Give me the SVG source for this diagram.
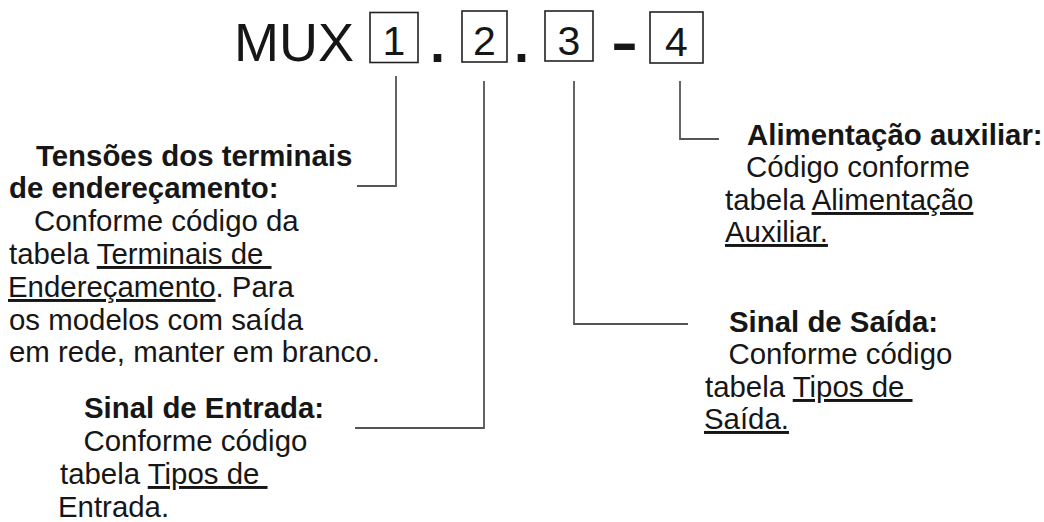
<svg xmlns="http://www.w3.org/2000/svg" width="1044" height="522" viewBox="0 0 1044 522">
<style>
text{font-family:"Liberation Sans",Arial,sans-serif;fill:#161616}
.t{font-size:29.4px}
.b{font-weight:bold}
.u{text-decoration:underline}
.box{fill:none;stroke:#222;stroke-width:1.6}
.con{fill:none;stroke:#555;stroke-width:1.8}
.big{font-size:54px}
.dig{font-size:41px;text-anchor:middle}
</style>
<rect width="1044" height="522" fill="#fff"/>
<g id="code">
<text class="big" x="234" y="61">MUX</text>
<rect class="box" x="370" y="12.5" width="48" height="50"/>
<text class="dig" x="394" y="55">1</text>
<text class="big b" x="430" y="62">.</text>
<rect class="box" x="462" y="11" width="45" height="51"/>
<text class="dig" x="484.5" y="55">2</text>
<text class="big b" x="514" y="62">.</text>
<rect class="box" x="545" y="11" width="48" height="50"/>
<text class="dig" x="569" y="55">3</text>
<text class="big b" x="611" y="61" textLength="27" lengthAdjust="spacingAndGlyphs">-</text>
<rect class="box" x="650" y="12" width="53" height="51"/>
<text class="dig" x="676.5" y="56">4</text>
</g>
<g id="connectors">
<polyline class="con" points="396,76 396,186 357,186"/>
<polyline class="con" points="484,81 484,428 355,428"/>
<polyline class="con" points="574,81 574,324 688,324"/>
<polyline class="con" points="680,81 680,139 719,139"/>
</g>
<g id="n1">
<text class="t b" x="36" y="166">Tensões dos terminais</text>
<text class="t b" x="9" y="198">de endereçamento:</text>
<text class="t" x="34" y="231">Conforme código da</text>
<text class="t" x="9" y="264">tabela <tspan class="u">Terminais de&#160;</tspan></text>
<text class="t" x="8" y="297"><tspan class="u">Endereçamento</tspan>. Para</text>
<text class="t" x="9" y="330">os modelos com saída</text>
<text class="t" x="9" y="362">em rede, manter em branco.</text>
</g>
<g id="n2">
<text class="t b" x="84" y="418">Sinal de Entrada:</text>
<text class="t" x="83.5" y="451">Conforme código</text>
<text class="t" x="60" y="484">tabela <tspan class="u">Tipos de&#160;</tspan></text>
<text class="t" x="58" y="517">Entrada.</text>
</g>
<g id="n3">
<text class="t b" x="729" y="332">Sinal de Saída:</text>
<text class="t" x="728.5" y="364">Conforme código</text>
<text class="t" x="705" y="397">tabela <tspan class="u">Tipos de&#160;</tspan></text>
<text class="t" x="704" y="429"><tspan class="u">Saída.</tspan></text>
</g>
<g id="n4">
<text class="t b" x="747" y="145">Alimentação auxiliar:</text>
<text class="t" x="746" y="177">Código conforme</text>
<text class="t" x="725" y="210">tabela <tspan class="u">Alimentação</tspan></text>
<text class="t" x="725" y="242"><tspan class="u">Auxiliar.</tspan></text>
</g>
</svg>
